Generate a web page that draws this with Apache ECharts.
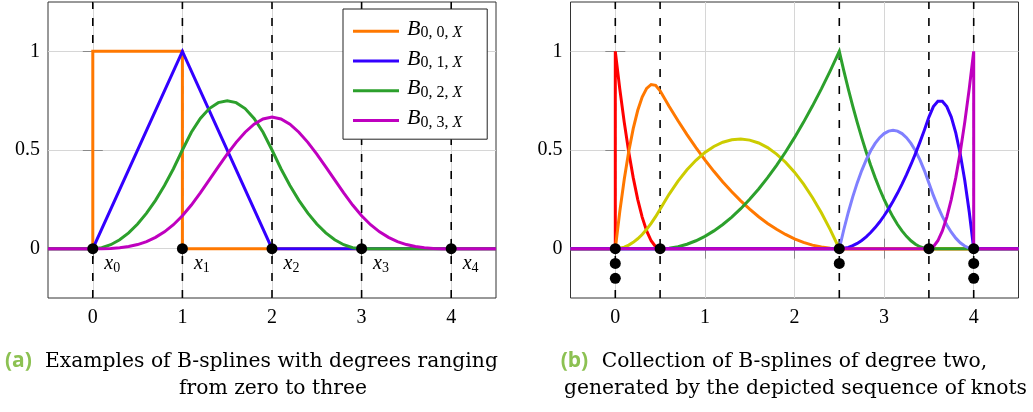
<!DOCTYPE html>
<html><head><meta charset="utf-8">
<script src="https://cdn.jsdelivr.net/npm/echarts@6/dist/echarts.min.js"></script>
<style>html,body{margin:0;padding:0;background:#fff}#c{width:1033px;height:412px}</style>
</head><body><div id="c"></div>
<script>
// ---- tick labels / knots ----
const xTicks = [0, 1, 2, 3, 4];
const yTicks = [0, 0.5, 1];
const knotsA = [0, 1, 2, 3, 4];
const knotLabelsA = ['0', '1', '2', '3', '4'];
const knotsB = [0, 0.5, 2.5, 3.5, 4];
const knotDotsB = [[0,0],[0,-0.075],[0,-0.15],[0.5,0],[2.5,0],[2.5,-0.075],[3.5,0],[4,0],[4,-0.075],[4,-0.15]];

// ---- plot (a): B-splines of degree 0..3 ----
const namesA = ['B0,0,X', 'B0,1,X', 'B0,2,X', 'B0,3,X'];
const subsA = ['0, 0, ', '0, 1, ', '0, 2, ', '0, 3, '];
const b00 = [[-0.5,0],[0,0],[0,1],[1,1],[1,0],[4.5,0]];
const b01 = [[-0.5,0],[0,0],[1,1],[2,0],[4.5,0]];
const gridXA = [0,0.1,0.2,0.3,0.4,0.5,0.6,0.7,0.8,0.9,1,1.1,1.2,1.3,1.4,1.5,1.6,1.7,1.8,1.9,2,2.1,2.2,2.3,2.4,2.5,2.6,2.7,2.8,2.9,3,3.1,3.2,3.3,3.4,3.5,3.6,3.7,3.8,3.9,4];
const b02 = [0,0.005,0.02,0.045,0.08,0.125,0.18,0.245,0.32,0.405,0.5,0.59,0.66,0.71,0.74,0.75,0.74,0.71,0.66,0.59,0.5,0.405,0.32,0.245,0.18,0.125,0.08,0.045,0.02,0.005,0,0,0,0,0,0,0,0,0,0,0];
const b03 = [0,0.0002,0.0013,0.0045,0.0107,0.0208,0.036,0.0572,0.0853,0.1215,0.1667,0.2212,0.2827,0.3482,0.4147,0.4792,0.5387,0.5902,0.6307,0.6572,0.6667,0.6572,0.6307,0.5902,0.5387,0.4792,0.4147,0.3482,0.2827,0.2212,0.1667,0.1215,0.0853,0.0572,0.036,0.0208,0.0107,0.0045,0.0013,0.0002,0];

// ---- plot (b): quadratic B-splines on knots 0,0,0,0.5,2.5,2.5,3.5,4,4,4 ----
const gridXB = [0,0.05,0.1,0.15,0.2,0.25,0.3,0.35,0.4,0.45,0.5,
  0.6,0.7,0.8,0.9,1,1.1,1.2,1.3,1.4,1.5,1.6,1.7,1.8,1.9,2,2.1,2.2,2.3,2.4,2.5,
  2.55,2.6,2.65,2.7,2.75,2.8,2.85,2.9,2.95,3,3.05,3.1,3.15,3.2,3.25,3.3,3.35,3.4,3.45,3.5,
  3.55,3.6,3.65,3.7,3.75,3.8,3.85,3.9,3.95,4];
const n0 = [1,0.81,0.64,0.49,0.36,0.25,0.16,0.09,0.04,0.01,0,
  0,0,0,0,0,0,0,0,0,0,0,0,0,0,0,0,0,0,0,0,
  0,0,0,0,0,0,0,0,0,0,0,0,0,0,0,0,0,0,0,0,
  0,0,0,0,0,0,0,0,0,0];
const n1 = [0,0.188,0.352,0.492,0.608,0.7,0.768,0.812,0.832,0.828,0.8,
  0.722,0.648,0.578,0.512,0.45,0.392,0.338,0.288,0.242,0.2,0.162,0.128,0.098,0.072,0.05,0.032,0.018,0.008,0.002,0,
  0,0,0,0,0,0,0,0,0,0,0,0,0,0,0,0,0,0,0,0,
  0,0,0,0,0,0,0,0,0,0];
const n2 = [0,0.002,0.008,0.018,0.032,0.05,0.072,0.098,0.128,0.162,0.2,
  0.2755,0.342,0.3995,0.448,0.4875,0.518,0.5395,0.552,0.5555,0.55,0.5355,0.512,0.4795,0.438,0.3875,0.328,0.2595,0.182,0.0955,0,
  0,0,0,0,0,0,0,0,0,0,0,0,0,0,0,0,0,0,0,0,
  0,0,0,0,0,0,0,0,0,0];
const n3 = [0,0,0,0,0,0,0,0,0,0,0,
  0.0025,0.01,0.0225,0.04,0.0625,0.09,0.1225,0.16,0.2025,0.25,0.3025,0.36,0.4225,0.49,0.5625,0.64,0.7225,0.81,0.9025,1,
  0.9025,0.81,0.7225,0.64,0.5625,0.49,0.4225,0.36,0.3025,0.25,0.2025,0.16,0.1225,0.09,0.0625,0.04,0.0225,0.01,0.0025,0,
  0,0,0,0,0,0,0,0,0,0];
const n4 = [0,0,0,0,0,0,0,0,0,0,0,
  0,0,0,0,0,0,0,0,0,0,0,0,0,0,0,0,0,0,0,0,
  0.0958,0.1833,0.2625,0.3333,0.3958,0.45,0.4958,0.5333,0.5625,0.5833,0.5958,0.6,0.5958,0.5833,0.5625,0.5333,0.4958,0.45,0.3958,0.3333,
  0.27,0.2133,0.1633,0.12,0.0833,0.0533,0.03,0.0133,0.0033,0];
const n5 = [0,0,0,0,0,0,0,0,0,0,0,
  0,0,0,0,0,0,0,0,0,0,0,0,0,0,0,0,0,0,0,0,
  0.0017,0.0067,0.015,0.0267,0.0417,0.06,0.0817,0.1067,0.135,0.1667,0.2017,0.24,0.2817,0.3267,0.375,0.4267,0.4817,0.54,0.6017,0.6667,
  0.72,0.7467,0.7467,0.72,0.6667,0.5867,0.48,0.3467,0.1867,0];
const n6 = [0,0,0,0,0,0,0,0,0,0,0,
  0,0,0,0,0,0,0,0,0,0,0,0,0,0,0,0,0,0,0,0,
  0,0,0,0,0,0,0,0,0,0,0,0,0,0,0,0,0,0,0,0,
  0.01,0.04,0.09,0.16,0.25,0.36,0.49,0.64,0.81,1];

const colorsA = ['#ff7800', '#3300ff', '#2ca02c', '#bf00bf'];
const colorsB = ['#ff0000', '#ff7800', '#cccc00', '#2ca02c', '#8080ff', '#3300ff', '#bf00bf'];

// ---- build ----
const serif = '"Liberation Serif", serif';
function pairs(xs, ys) { return xs.map((x, i) => [x, ys[i]]); }

const dataA = [
  b00,
  b01,
  [[-0.5, 0]].concat(pairs(gridXA, b02), [[4.5, 0]]),
  [[-0.5, 0]].concat(pairs(gridXA, b03), [[4.5, 0]])
];
const ysB = [n0, n1, n2, n3, n4, n5, n6];
const dataB = ysB.map((ys, i) => {
  const head = i === 0 ? [[-0.5, 0], [0, 0]] : [[-0.5, 0]];
  const tail = i === 6 ? [[4, 0], [4.5, 0]] : [[4.5, 0]];
  return head.concat(pairs(gridXB, ys), tail);
});

const tickStyle = { color: '#8a8a8a', width: 1 };
const labStyle = { fontFamily: serif, fontSize: 20, color: '#000' };
function xAxes(g) {
  return [
    { gridIndex: g, type: 'value', min: -0.5, max: 4.5, position: 'bottom',
      axisLine: { show: false },
      axisTick: { show: true, inside: true, length: 10, lineStyle: tickStyle, customValues: xTicks },
      axisLabel: Object.assign({ show: true, customValues: xTicks, margin: 10 }, labStyle),
      splitLine: { show: true, lineStyle: { color: '#d6d6d6', width: 1 } } },
    { gridIndex: g, type: 'value', min: -0.5, max: 4.5, position: 'top',
      axisLine: { show: false },
      axisTick: { show: true, inside: true, length: 10, lineStyle: tickStyle, customValues: xTicks },
      axisLabel: { show: false }, splitLine: { show: false } }
  ];
}
function yAxes(g) {
  return [
    { gridIndex: g, type: 'value', min: -0.25, max: 1.25, position: 'left',
      axisLine: { show: false },
      axisTick: { show: true, inside: true, length: 10, lineStyle: tickStyle, customValues: yTicks },
      axisLabel: Object.assign({ show: true, customValues: yTicks, margin: 8 }, labStyle),
      splitLine: { show: true, lineStyle: { color: '#d6d6d6', width: 1 } } },
    { gridIndex: g, type: 'value', min: -0.25, max: 1.25, position: 'right',
      axisLine: { show: false },
      axisTick: { show: true, inside: true, length: 10, lineStyle: tickStyle, customValues: yTicks },
      axisLabel: { show: false }, splitLine: { show: false } }
  ];
}

const series = [];
function knotLine(k, xi, yi) {
  series.push({ type: 'line', xAxisIndex: xi, yAxisIndex: yi, data: [[k, -0.25], [k, 1.25]],
    symbol: 'none', silent: true, z: 2,
    lineStyle: { color: '#000', width: 1.6, type: [8, 9] } });
}
knotsA.forEach(k => knotLine(k, 0, 0));
knotsB.forEach(k => knotLine(k, 2, 2));

dataA.forEach((d, i) => series.push({
  name: namesA[i], type: 'line', xAxisIndex: 0, yAxisIndex: 0, data: d,
  symbol: 'none', showSymbol: false, z: 3, silent: true,
  lineStyle: { color: colorsA[i], width: 3, join: 'miter', opacity: 1 }, itemStyle: { color: colorsA[i] }
}));
dataB.forEach((d, i) => series.push({
  type: 'line', xAxisIndex: 2, yAxisIndex: 2, data: d,
  symbol: 'none', showSymbol: false, z: 3, silent: true,
  lineStyle: { color: colorsB[i], width: 3, join: 'miter', opacity: 1 }
}));

series.push({
  type: 'scatter', xAxisIndex: 0, yAxisIndex: 0, data: knotsA.map(k => [k, 0]),
  symbol: 'circle', symbolSize: 11, itemStyle: { color: '#000', opacity: 1 }, z: 5, silent: true,
  label: { show: true, position: 'right', distance: 6, offset: [0, 17], color: '#000',
    formatter: p => '{x|x}{s|' + knotLabelsA[p.dataIndex] + '}',
    rich: {
      x: { fontFamily: serif, fontStyle: 'italic', fontSize: 20, lineHeight: 20, verticalAlign: 'bottom', padding: [0, 0, 2.4, 0] },
      s: { fontFamily: serif, fontSize: 14, lineHeight: 20, verticalAlign: 'bottom' }
    } }
});
series.push({
  type: 'scatter', xAxisIndex: 2, yAxisIndex: 2, data: knotDotsB,
  symbol: 'circle', symbolSize: 11, itemStyle: { color: '#000', opacity: 1 }, z: 5, silent: true
});

const capFont = '"DejaVu Serif", serif';
const option = {
  animation: false,
  backgroundColor: '#fff',
  grid: [
    { left: 48, top: 2, width: 448, height: 296, show: true, borderColor: '#333', borderWidth: 1, backgroundColor: 'transparent' },
    { left: 570.5, top: 2, width: 448, height: 296, show: true, borderColor: '#333', borderWidth: 1, backgroundColor: 'transparent' }
  ],
  xAxis: xAxes(0).concat(xAxes(1)),
  yAxis: yAxes(0).concat(yAxes(1)),
  legend: {
    data: namesA, orient: 'vertical', left: 343, top: 9, z: 10,
    padding: [9, 25, 8.6, 10], itemGap: 6.6, itemWidth: 46, itemHeight: 3, icon: 'rect',
    backgroundColor: '#fff', borderColor: '#222', borderWidth: 1, borderRadius: 0,
    selectedMode: false,
    formatter: name => '{b|B}{s|' + subsA[namesA.indexOf(name)] + '}{x|X}',
    textStyle: {
      color: '#000', lineHeight: 20,
      rich: {
        b: { fontFamily: serif, fontStyle: 'italic', fontSize: 22, lineHeight: 20, verticalAlign: 'bottom', padding: [0, 0, 1.2, 3] },
        s: { fontFamily: serif, fontSize: 16, lineHeight: 20, verticalAlign: 'bottom' },
        x: { fontFamily: serif, fontStyle: 'italic', fontSize: 16, lineHeight: 20, verticalAlign: 'bottom' }
      }
    }
  },
  graphic: [
    { type: 'text', x: 5, y: 361.5, style: { text: '(a)', fill: '#8cc152', fontFamily: '"Open Sans", sans-serif', fontWeight: 'bold', fontSize: 21, align: 'left', verticalAlign: 'middle' } },
    { type: 'text', x: 45, y: 362, style: { text: 'Examples of B-splines with degrees ranging', fill: '#000', fontFamily: capFont, fontSize: 20.3, align: 'left', verticalAlign: 'middle' } },
    { type: 'text', x: 273, y: 388.5, style: { text: 'from zero to three', fill: '#000', fontFamily: capFont, fontSize: 20.3, align: 'center', verticalAlign: 'middle' } },
    { type: 'text', x: 560.7, y: 361.5, style: { text: '(b)', fill: '#8cc152', fontFamily: '"Open Sans", sans-serif', fontWeight: 'bold', fontSize: 21, align: 'left', verticalAlign: 'middle' } },
    { type: 'text', x: 601.7, y: 362, style: { text: 'Collection of B-splines of degree two,', fill: '#000', fontFamily: capFont, fontSize: 20.3, align: 'left', verticalAlign: 'middle' } },
    { type: 'text', x: 564, y: 388.5, style: { text: 'generated by the depicted sequence of knots', fill: '#000', fontFamily: capFont, fontSize: 20.3, align: 'left', verticalAlign: 'middle' } }
  ],
  series: series
};
const chart = echarts.init(document.getElementById('c'));
chart.setOption(option);
</script>
</body></html>
